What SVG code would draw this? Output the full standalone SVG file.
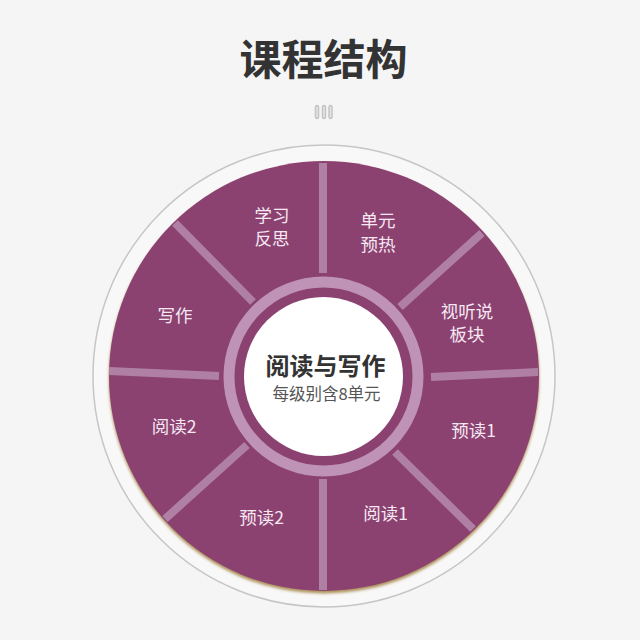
<svg xmlns="http://www.w3.org/2000/svg" width="640" height="640" viewBox="0 0 640 640">
<style>
text{font-family:"Noto Sans CJK SC","Noto Sans",sans-serif;text-anchor:middle}
.title{font-size:42px;font-weight:700;fill:#333}
.lab{font-size:17.500px;fill:#f6e8f2}
.spoke{stroke:#b080a4;stroke-width:8;fill:none}
.tick{fill:#e6e6e6;stroke:#c4c4c4;stroke-width:1.500}
</style>
<defs>
<filter id="glow" x="-10%" y="-10%" width="120%" height="120%"><feGaussianBlur stdDeviation="1.500"/></filter>
</defs>
<rect width="640" height="640" fill="#f5f5f5"/>
<g id="heading">
<text class="title" x="323.500" y="75">课程结构</text>
<rect class="tick" x="315.500" y="105.500" width="3" height="13" rx="1.500"/>
<rect class="tick" x="322.500" y="105.500" width="3" height="13" rx="1.500"/>
<rect class="tick" x="329" y="105.500" width="3" height="13" rx="1.500"/>
</g>
<g id="wheel">
<circle cx="324" cy="376" r="231" fill="#f9f8f8" stroke="#c6c6c6" stroke-width="1.500"/>
<circle cx="324" cy="378.500" r="215" fill="#ab8f58" filter="url(#glow)"/>
<circle cx="324" cy="376" r="215" fill="#8b4271"/>
</g>
<g id="connectors">
<line class="spoke" x1="323" y1="163" x2="323" y2="273"/>
<line class="spoke" x1="482" y1="233" x2="400" y2="307"/>
<line class="spoke" x1="538" y1="372" x2="431" y2="377"/>
<line class="spoke" x1="473" y1="529" x2="395" y2="452"/>
<line class="spoke" x1="323" y1="590" x2="323" y2="479"/>
<line class="spoke" x1="165" y1="519" x2="247" y2="445"/>
<line class="spoke" x1="109" y1="371" x2="219" y2="376"/>
<line class="spoke" x1="175" y1="223" x2="253" y2="302"/>
</g>
<g id="center">
<circle cx="323.500" cy="376.500" r="94.500" fill="none" stroke="#bf93b5" stroke-width="11"/>
<circle cx="323.500" cy="376.500" r="79.500" fill="#fff"/>
<text x="325.500" y="375" font-size="24" font-weight="700" fill="#333">阅读与写作</text>
<text x="326.500" y="400" font-size="16.500" fill="#555">每级别含8单元</text>
</g>
<g id="n1"><text class="lab" x="378" y="227">单元</text><text class="lab" x="378" y="251">预热</text></g>
<g id="n2"><text class="lab" x="467" y="318">视听说</text><text class="lab" x="467" y="341">板块</text></g>
<g id="n3"><text class="lab" x="473.500" y="437">预读1</text></g>
<g id="n4"><text class="lab" x="385.500" y="520">阅读1</text></g>
<g id="n5"><text class="lab" x="261.500" y="524">预读2</text></g>
<g id="n6"><text class="lab" x="174" y="433">阅读2</text></g>
<g id="n7"><text class="lab" x="175" y="322">写作</text></g>
<g id="n8"><text class="lab" x="272" y="222">学习</text><text class="lab" x="272" y="245">反思</text></g>
</svg>
